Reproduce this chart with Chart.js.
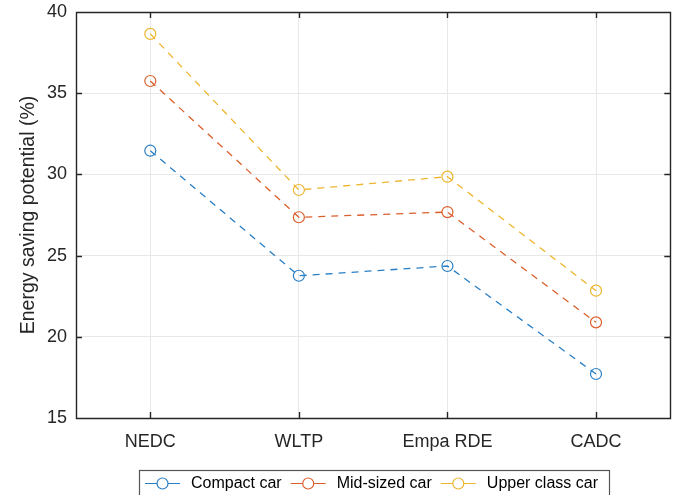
<!DOCTYPE html>
<html>
<head>
<meta charset="utf-8">
<script src="https://cdn.jsdelivr.net/npm/chart.js@4"></script>
<style>
  html, body { margin: 0; padding: 0; background: #fff; }
  #wrap { width: 677px; height: 495px; }
</style>
</head>
<body>
<div id="wrap"><canvas id="grafico" width="677" height="495"></canvas></div>
<script>
// Datos
const ciclos = ["NEDC", "WLTP", "Empa RDE", "CADC"];
const compactCar = [31.46, 23.76, 24.36, 17.71];
const midSizedCar = [35.75, 27.36, 27.68, 20.89];
const upperClassCar = [38.65, 29.04, 29.86, 22.84];
const yTicks = [15, 20, 25, 30, 35, 40];
const nombresSeries = ["Compact car", "Mid-sized car", "Upper class car"];

const colores = ["#2a7fc4", "#db5f2c", "#eeb52e"];
const fuente = "'Liberation Sans', Arial, Helvetica, sans-serif";
const ejeColor = "#262626";

function serie(label, data, color) {
  return {
    label: label,
    data: data,
    borderColor: color,
    backgroundColor: "rgba(0,0,0,0)",
    borderWidth: 1.3,
    borderDash: [7, 6],
    pointStyle: "circle",
    pointRadius: 5.5,
    pointHoverRadius: 5.5,
    pointBorderWidth: 1.2,
    pointBorderColor: color,
    pointBackgroundColor: "rgba(0,0,0,0)",
    tension: 0,
  };
}

// Caja del eje con marcas hacia adentro y leyenda con borde
const cajaYLeyenda = {
  id: "cajaYLeyenda",
  afterDraw(chart) {
    const ctx = chart.ctx;
    const a = chart.chartArea;
    const x = chart.scales.x;
    const y = chart.scales.y;
    const largo = 6;
    ctx.save();
    ctx.strokeStyle = ejeColor;
    ctx.lineWidth = 1.4;
    ctx.setLineDash([]);
    ctx.beginPath();
    ctx.rect(Math.round(a.left) + 0.5, Math.round(a.top) + 0.5,
      Math.round(a.right - a.left), Math.round(a.bottom - a.top));
    for (let i = 0; i < ciclos.length; i++) {
      const px = Math.round(x.getPixelForTick(i)) + 0.5;
      ctx.moveTo(px, a.bottom);
      ctx.lineTo(px, a.bottom - largo);
      ctx.moveTo(px, a.top);
      ctx.lineTo(px, a.top + largo);
    }
    for (let i = 0; i < yTicks.length; i++) {
      const py = Math.round(y.getPixelForValue(yTicks[i])) + 0.5;
      ctx.moveTo(a.left, py);
      ctx.lineTo(a.left + largo, py);
      ctx.moveTo(a.right, py);
      ctx.lineTo(a.right - largo, py);
    }
    ctx.stroke();

    // Leyenda
    ctx.font = "16px " + fuente;
    ctx.lineWidth = 1.2;
    const yl = 483;
    let xl = 145;
    const caja = { left: 139.5, top: 470.5, right: 609.5, bottom: 500 };
    ctx.strokeStyle = "#555555";
    ctx.strokeRect(caja.left, caja.top, caja.right - caja.left, caja.bottom - caja.top);
    chart.data.datasets.forEach((ds) => {
      ctx.strokeStyle = ds.borderColor;
      ctx.beginPath();
      ctx.moveTo(xl, yl + 0.5);
      ctx.lineTo(xl + 35, yl + 0.5);
      ctx.stroke();
      ctx.fillStyle = "#fff";
      ctx.beginPath();
      ctx.arc(xl + 17.5, yl + 0.5, 5.5, 0, Math.PI * 2);
      ctx.fill();
      ctx.stroke();
      ctx.fillStyle = "#000";
      ctx.textBaseline = "middle";
      ctx.textAlign = "left";
      ctx.fillText(ds.label, xl + 46, yl + 1);
      xl += 46 + ctx.measureText(ds.label).width + 9;
    });
    ctx.restore();
  },
};

new Chart(document.getElementById("grafico"), {
  type: "line",
  data: {
    labels: ciclos,
    datasets: [
      serie(nombresSeries[0], compactCar, colores[0]),
      serie(nombresSeries[1], midSizedCar, colores[1]),
      serie(nombresSeries[2], upperClassCar, colores[2]),
    ],
  },
  options: {
    responsive: false,
    animation: false,
    events: [],
    layout: { padding: { top: 12, right: 0, left: 0, bottom: 0 } },
    plugins: {
      legend: { display: false },
      tooltip: { enabled: false },
    },
    scales: {
      x: {
        offset: true,
        grid: { offset: false, color: "#e8e8e8", drawTicks: false },
        border: { display: false },
        ticks: { color: ejeColor, font: { family: fuente, size: 18 }, padding: 13, maxRotation: 0 },
        afterFit: (s) => {
          s.height = 77;
          s.paddingLeft = 0;
          s.paddingRight = 0;
        },
      },
      y: {
        min: 15,
        max: 40,
        grid: { color: "#e8e8e8", drawTicks: false },
        border: { display: false },
        ticks: { stepSize: 5, color: ejeColor, font: { family: fuente, size: 18 }, padding: 9 },
        title: {
          display: true,
          text: "Energy saving potential (%)",
          color: ejeColor,
          font: { family: fuente, size: 19.5 },
          padding: { top: 17, bottom: 0 },
        },
        afterFit: (s) => {
          s.width = 76;
          s.paddingTop = 0;
          s.paddingBottom = 0;
        },
      },
    },
  },
  plugins: [cajaYLeyenda],
});
</script>
</body>
</html>
